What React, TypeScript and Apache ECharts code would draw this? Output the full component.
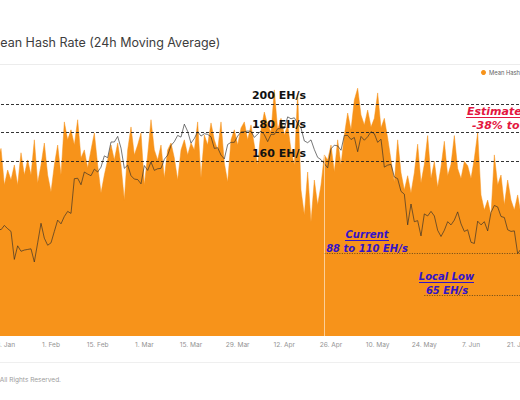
import { useEffect, useRef } from "react";
import * as echarts from "echarts";

// ---- data (daily, 14 Jan 2021 -> 25 Jun 2021) ----
const START_UTC = Date.UTC(2021, 0, 14);
const MONTHS = ["Jan", "Feb", "Mar", "Apr", "May", "Jun", "Jul", "Aug", "Sep", "Oct", "Nov", "Dec"];

// Mean hash rate, 24h moving average (EH/s)
const HASH_RATE = [
  168, 154, 161, 169,
  143.6, 154, 147, 157.5, 143.6, 166, 150.5, 161, 150.5, 175,
  145, 157.5, 172.8, 150.5, 138.7, 157.5, 171.4, 150.5, 187.5, 175,
  182, 171.4, 189, 162.4, 168, 155.4, 168, 179.8, 157.5, 138,
  150.5, 161, 171.4, 161, 172.8, 157.5, 133, 168, 184, 164.5,
  171.4, 179.8, 143.6, 164.5, 189, 168, 161, 171.4, 148.4, 168,
  172.8, 162.4, 147, 168, 175, 164.5, 172.8, 168, 187.5, 148.4,
  178.4, 171.4, 186.8, 175, 168, 187.5, 158.9, 145.6, 175, 182,
  171.4, 183.3, 187.5, 175, 185.4, 171.4, 157.5, 182, 194.4, 185.4,
  180.5, 209.8, 182, 190, 178.4, 185.4, 168, 157.5, 207.7, 140,
  122.6, 152.6, 117.8, 147, 129.6, 143.6, 164.5, 161, 171.4, 152.6,
  175, 157.5, 178.4, 193.7, 182, 202.8, 211, 192.3, 185.4, 195.8,
  184, 190, 207.7, 183.3, 190, 176.3, 161, 145.6, 175, 152,
  140, 150, 138, 152, 172, 145, 158, 178, 148, 160,
  142, 156, 174, 150, 158, 178, 155, 148, 160, 157,
  148, 162, 180, 136.6, 126.1, 133, 122.6, 164.5, 143.6, 150.5,
  129.6, 147, 133, 126.1, 136.6, 122.6, 129.6, 119.2, 126.1,
];

// BTC price (USD)
const BTC_PRICE = [
  // Jan 14-31
  39200, 36800, 36100, 35800, 36600, 36000, 35500, 30800, 33000, 32100, 32300, 32400, 32500, 30400, 33500, 37000, 34300, 33100,
  // Feb
  33500, 35500, 37600, 36900, 38300, 39300, 38900, 46400, 46500, 45000, 48000, 47500, 47100, 48700, 48000, 49200, 52100, 51600, 55900, 55900, 57500, 54200, 48900, 49700, 47100, 46300, 46200, 45200,
  // Mar
  49600, 48400, 50500, 48400, 48800, 48900, 51200, 52300, 54900, 56000, 57800, 57300, 61200, 59000, 55600, 56900, 58900, 57600, 58300, 58100, 57400, 54100, 54300, 52300, 51300, 55200, 55800, 55800, 57600, 58800, 58900,
  // Apr
  59100, 59000, 57200, 58200, 59100, 58000, 56000, 58100, 58100, 59800, 59800, 59900, 63500, 62900, 63200, 61400, 60000, 56200, 55700, 56500, 53800, 51700, 51100, 50100, 49000, 54000, 55000, 54800, 53600, 57800,
  // May
  57800, 56600, 57200, 53200, 57500, 56400, 57400, 58900, 58300, 55800, 56700, 49200, 49700, 49900, 46800, 46400, 43500, 42900, 36700, 40800, 37300, 37500, 34700, 38800, 38400, 39300, 38400, 35700, 34600, 35700, 37300,
  // Jun 1-25
  36700, 37600, 39200, 36900, 35500, 35800, 33600, 33400, 37400, 36700, 37300, 35600, 39100, 40500, 40200, 38300, 38100, 35800, 35500, 35600, 31700, 32500, 33700, 34700, 31600,
];

const CATEGORIES = HASH_RATE.map((_, i) => {
  const d = new Date(START_UTC + i * 86400000);
  return `${d.getUTCDate()}. ${MONTHS[d.getUTCMonth()]}`;
});

const TICK_LABELS = [
  "18. Jan", "1. Feb", "15. Feb", "1. Mar", "15. Mar", "29. Mar",
  "12. Apr", "26. Apr", "10. May", "24. May", "7. Jun", "21. Jun",
];

const GUIDE_LEVELS = [200, 180, 160];
const CURRENT_LEVEL = 96.2;
const LOCAL_LOW_LEVEL = 67;
const CURRENT_FROM = "24. Apr";
const LOCAL_LOW_FROM = "24. May";
const GAP_DAY = "24. Apr";
const GAP_TOP = 164;

const HASH_MIN = 38.3;
const HASH_MAX = 219.5;
const PRICE_MIN = 20880;
const PRICE_MAX = 78140;

// ---- layout ----
const OFFSET = 40; // chart canvas starts 40px left of the visible window
const W = 620;
const H = 400;
const px = (x: number) => x + OFFSET;

const ORANGE = "#F7931A";
const RED = "#e3163f";
const BLUE = "#3314c8";
const ANN_FONT = '"DejaVu Sans", sans-serif';

function txt(
  x: number,
  y: number,
  text: string,
  font: string,
  fill: string,
  align: string = "left"
) {
  return {
    type: "text",
    x,
    y,
    z: 100,
    silent: true,
    style: {
      text,
      font,
      fill,
      align,
      textAlign: align,
      verticalAlign: "middle",
      textVerticalAlign: "middle",
    },
  };
}

function hline(x1: number, x2: number, y: number, stroke: string, width = 1) {
  return {
    type: "line",
    z: 100,
    silent: true,
    shape: { x1, y1: y, x2, y2: y },
    style: { stroke, lineWidth: width },
  };
}

export default function App() {
  const ref = useRef<HTMLDivElement>(null);

  useEffect(() => {
    if (!ref.current) return;
    const chart = echarts.init(ref.current, undefined, { renderer: "svg" });
    const last = CATEGORIES[CATEGORIES.length - 1];

    const option: any = {
      animation: false,
      backgroundColor: "#ffffff",
      textStyle: { fontFamily: "Inter, sans-serif" },
      grid: { left: 31, right: 49, top: 76, bottom: 64, containLabel: false },
      legend: {
        left: 521,
        top: 69.5,
        padding: 0,
        icon: "circle",
        itemWidth: 5,
        itemHeight: 5,
        itemGap: 12,
        textStyle: { fontSize: 5.8, color: "#666", fontFamily: "Inter, sans-serif", padding: [0, 0, 0, -2] },
        data: ["Mean Hash Rate (24h MA)"],
      },
      xAxis: {
        type: "category",
        data: CATEGORIES,
        boundaryGap: false,
        axisLine: { show: false },
        axisTick: { show: false },
        splitLine: { show: false },
        axisLabel: {
          interval: (_i: number, v: string) => TICK_LABELS.includes(v),
          fontSize: 6.6,
          color: "#939393",
          margin: 5,
          fontFamily: "Inter, sans-serif",
        },
      },
      yAxis: [
        { type: "value", min: HASH_MIN, max: HASH_MAX, show: false, splitLine: { show: false } },
        { type: "log", min: PRICE_MIN, max: PRICE_MAX, show: false, splitLine: { show: false } },
      ],
      series: [
        {
          name: "Mean Hash Rate (24h MA)",
          type: "line",
          yAxisIndex: 0,
          data: HASH_RATE,
          showSymbol: false,
          symbol: "circle",
          itemStyle: { color: ORANGE },
          lineStyle: { color: ORANGE, width: 0.5 },
          areaStyle: { color: ORANGE, opacity: 1, origin: "start" },
          z: 2,
          markLine: {
            silent: true,
            symbol: "none",
            label: { show: false },
            data: [
              ...GUIDE_LEVELS.map((v) => ({
                yAxis: v,
                lineStyle: { color: "#1e1e1e", width: 1, type: [3, 2], opacity: 0.9 },
              })),
              [
                { coord: [CURRENT_FROM, CURRENT_LEVEL], lineStyle: { color: "#4a3a1a", width: 1, type: [1, 1.5], opacity: 0.85 } },
                { coord: [last, CURRENT_LEVEL] },
              ],
              [
                { coord: [LOCAL_LOW_FROM, LOCAL_LOW_LEVEL], lineStyle: { color: "#4a3a1a", width: 1, type: [1, 1.5], opacity: 0.85 } },
                { coord: [last, LOCAL_LOW_LEVEL] },
              ],
              [
                { coord: [GAP_DAY, HASH_MIN], lineStyle: { color: "#ffffff", width: 1, type: "solid", opacity: 0.55 } },
                { coord: [GAP_DAY, GAP_TOP] },
              ],
            ],
          },
        },
        {
          name: "BTC Price",
          type: "line",
          yAxisIndex: 1,
          data: BTC_PRICE,
          showSymbol: false,
          symbol: "circle",
          itemStyle: { color: "#555555" },
          lineStyle: { color: "#2a2a2a", width: 0.8, opacity: 0.8 },
          z: 3,
        },
      ],
      graphic: {
        elements: [
          txt(px(-11), 42, "Mean Hash Rate (24h Moving Average)", "normal 12.5px Inter, sans-serif", "#3d3d3d"),
          hline(0, W, 64.5, "#ececec"),
          hline(0, W, 362.5, "#efefef"),
          txt(px(61), 380, "© 2021 Glassnode. All Rights Reserved.", "normal 6.5px Inter, sans-serif", "#9c9c9c", "right"),

          txt(px(279), 95, "200 EH/s", `bold 11px ${ANN_FONT}`, "#111111", "center"),
          txt(px(279), 124, "180 EH/s", `bold 11px ${ANN_FONT}`, "#111111", "center"),
          txt(px(279), 153, "160 EH/s", `bold 11px ${ANN_FONT}`, "#111111", "center"),

          txt(px(467), 111, "Estimated Drop", `italic bold 11px ${ANN_FONT}`, RED),
          hline(px(466), px(560), 117.5, RED),
          txt(px(472), 125, "-38% to -51%", `italic bold 11px ${ANN_FONT}`, RED),

          txt(px(367), 234, "Current", `italic bold 10px ${ANN_FONT}`, BLUE, "center"),
          hline(px(345), px(389), 240.5, BLUE),
          txt(px(367), 248, "88 to 110 EH/s", `italic bold 10px ${ANN_FONT}`, BLUE, "center"),

          txt(px(446.5), 276, "Local Low", `italic bold 10px ${ANN_FONT}`, BLUE, "center"),
          hline(px(419), px(474), 282.5, BLUE),
          txt(px(447), 290, "65 EH/s", `italic bold 10px ${ANN_FONT}`, BLUE, "center"),
        ],
      },
    };

    chart.setOption(option);
    return () => chart.dispose();
  }, []);

  return (
    <div
      style={{
        position: "fixed",
        left: 0,
        top: 0,
        width: 520,
        height: 400,
        overflow: "hidden",
        background: "#ffffff",
      }}
    >
      <div ref={ref} style={{ position: "absolute", left: -OFFSET, top: 0, width: W, height: H }} />
    </div>
  );
}
